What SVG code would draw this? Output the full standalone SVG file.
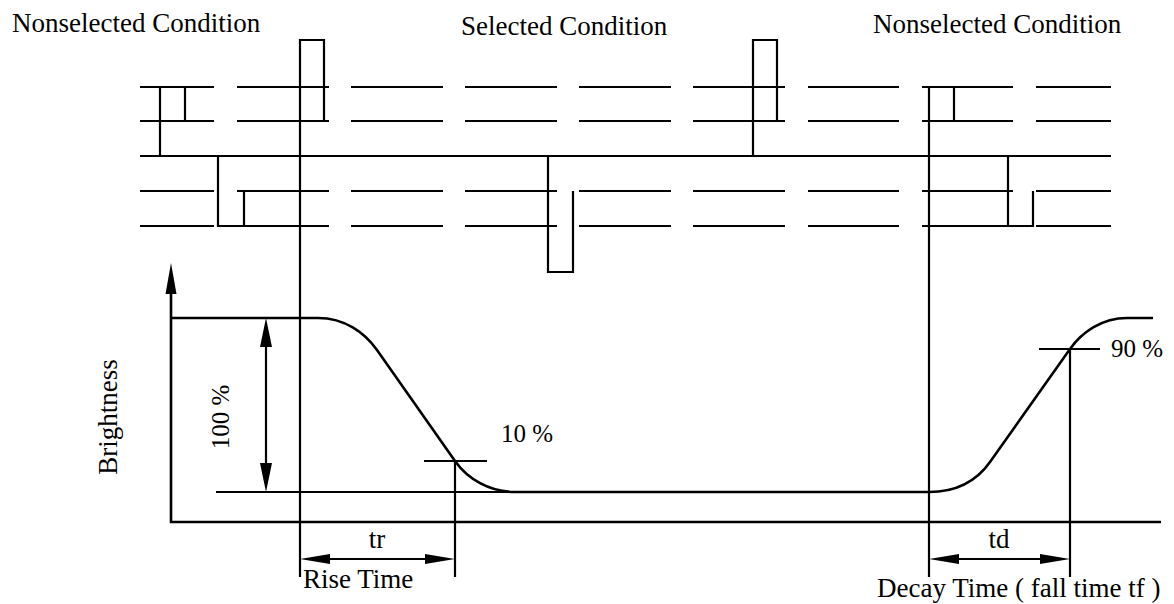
<svg xmlns="http://www.w3.org/2000/svg" width="1174" height="604" viewBox="0 0 1174 604">
<style>
.ln{fill:none;stroke:#000;stroke-width:2.2;stroke-linecap:butt;stroke-linejoin:miter}
.ax{fill:none;stroke:#000;stroke-width:2.6}
.ah{fill:#000;stroke:none}
text{font-family:"Liberation Serif","Times New Roman",serif;fill:#000}
.t{font-size:27px}
.p{font-size:25px}
</style>
<rect width="1174" height="604" fill="#fff"/>
<g id="labels">
<text class="t" x="12" y="32">Nonselected Condition</text>
<text class="t" x="461" y="35">Selected Condition</text>
<text class="t" x="873" y="33">Nonselected Condition</text>
<text class="t" x="117" y="417" text-anchor="middle" transform="rotate(-90 117 417)">Brightness</text>
<text class="p" x="229" y="417" text-anchor="middle" transform="rotate(-90 229 417)">100 %</text>
<text class="p" x="501" y="442">10 %</text>
<text class="p" x="1111" y="357">90 %</text>
<text class="t" x="377" y="548" text-anchor="middle">tr</text>
<text class="t" x="999" y="548" text-anchor="middle">td</text>
<text class="t" x="303" y="588">Rise Time</text>
<text class="t" x="877" y="597">Decay Time ( fall time tf )</text>
</g>
<g id="scan-lines">
<path class="ln" d="M140,156H1111"/>
<path class="ln" d="M140,87H214M237,87H329M351,87H443M465,87H557M579,87H671M693,87H785M808,87H899M922,87H1013M1036,87H1111"/>
<path class="ln" d="M140,121H214M237,121H329M351,121H443M465,121H557M579,121H671M693,121H785M808,121H899M922,121H1013M1036,121H1111"/>
<path class="ln" d="M140,191H214M237,191H329M351,191H443M465,191H557M579,191H671M693,191H785M808,191H899M922,191H1013M1036,191H1111"/>
<path class="ln" d="M140,226H214M237,226H329M351,226H443M465,226H557M579,226H671M693,226H785M808,226H899M922,226H1013M1036,226H1111"/>
</g>
<g id="pulses">
<path class="ln" d="M160,156V87H185V121"/>
<path class="ln" d="M218,156V226H244V191"/>
<path class="ln" d="M300,577V40H324V121"/>
<path class="ln" d="M548,156V272H573V191"/>
<path class="ln" d="M753,156V40H777V121"/>
<path class="ln" d="M929,577V87H954V121"/>
<path class="ln" d="M1008,156V226H1033V191"/>
</g>
<g id="axes">
<path class="ax" d="M171,290V522H1161"/>
<polygon class="ah" points="171,263 165.5,294 176.5,294"/>
</g>
<g id="brightness-curve">
<path class="ax" d="M171,318H318C345,318 365,333 377,350L455,461C468,479.5 490,492 515,492H929C960,492 978,479 990,462L1070,349C1082,332 1102,318 1127,318H1153"/>
<path class="ln" d="M216,492H515"/>
</g>
<g id="connectors">
<path class="ln" d="M266,340V470"/>
<polygon class="ah" points="266,318 260,347 272,347"/>
<polygon class="ah" points="266,492 260,463 272,463"/>
<path class="ln" d="M424,461H487M455,461V577"/>
<path class="ln" d="M1039,349H1100M1070,349V577"/>
<path class="ln" d="M325,559H430"/>
<polygon class="ah" points="300,559 330,554 330,564"/>
<polygon class="ah" points="455,559 425,554 425,564"/>
<path class="ln" d="M954,559H1045"/>
<polygon class="ah" points="929,559 959,554 959,564"/>
<polygon class="ah" points="1070,559 1040,554 1040,564"/>
</g>
</svg>
